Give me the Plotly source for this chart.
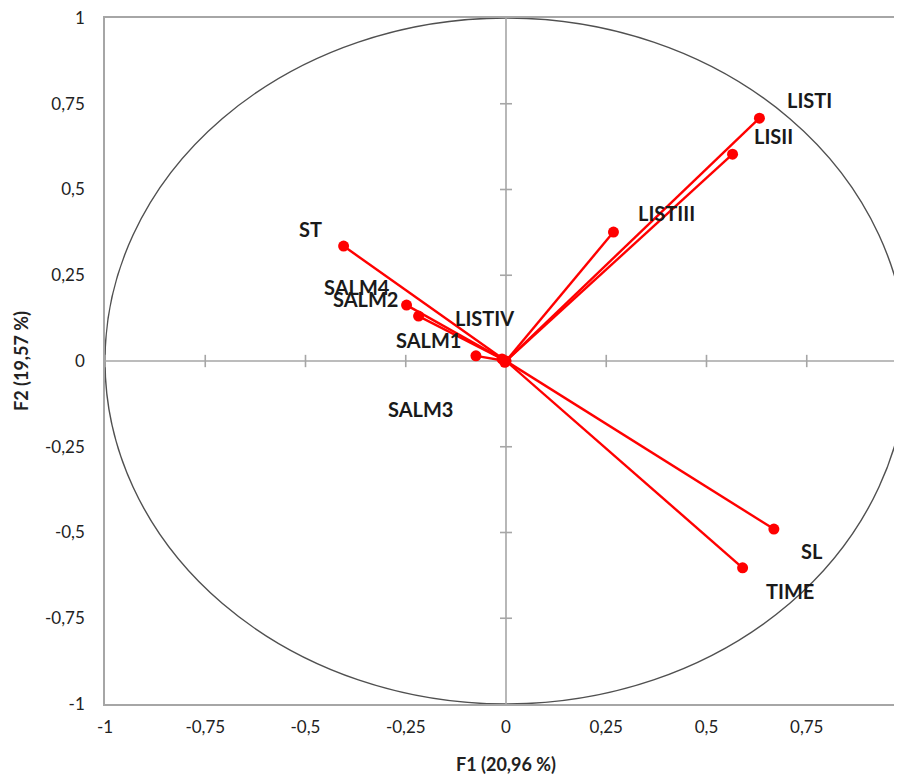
import plotly.graph_objects as go

# ---- data ----
variables = ["LISTI", "LISII", "LISTIII", "ST", "SALM4", "SALM2", "SALM1", "LISTIV", "SALM3", "SL", "TIME"]
f1_values = [0.632, 0.565, 0.268, -0.405, -0.248, -0.218, -0.075, -0.010, -0.003, 0.668, 0.590]
f2_values = [0.708, 0.603, 0.376, 0.335, 0.163, 0.131, 0.015, 0.006, -0.004, -0.490, -0.603]

tick_vals = [-1, -0.75, -0.5, -0.25, 0, 0.25, 0.5, 0.75, 1]
tick_text = ["-1", "-0,75", "-0,5", "-0,25", "0", "0,25", "0,5", "0,75", "1"]

x_title = "F1 (20,96 %)"
y_title = "F2 (19,57 %)"

# ---- label pixel offsets (style) ----
label_offsets = {
    "LISTI": (50, 18), "LISII": (41, 18), "LISTIII": (53, 19), "ST": (-33, 17),
    "SALM4": (-50, 18), "SALM2": (-53, 17), "SALM1": (-47, 16), "LISTIV": (-17, 41),
    "SALM3": (-84, -47), "SL": (38, -22), "TIME": (47, -23),
}

RED = "#ff0000"
GREY = "#a6a6a6"
FONT = "Lato"

fig = go.Figure()

# vectors from origin
for name, x, y in zip(variables, f1_values, f2_values):
    fig.add_trace(go.Scatter(x=[0, x], y=[0, y], mode="lines",
                             line=dict(color=RED, width=2.4), hoverinfo="skip", showlegend=False))
fig.add_trace(go.Scatter(x=f1_values, y=f2_values, mode="markers", text=variables,
                         marker=dict(color=RED, size=11), showlegend=False))
fig.add_trace(go.Scatter(x=[0], y=[0], mode="markers", marker=dict(color=RED, size=11),
                         hoverinfo="skip", showlegend=False))

# unit circle
fig.add_shape(type="circle", xref="x", yref="y", x0=-1, y0=-1, x1=1, y1=1,
              line=dict(color="#505050", width=1.4), layer="below")

# zero axes with tick marks
fig.add_shape(type="line", xref="x", yref="y", x0=-1, x1=1, y0=0, y1=0,
              line=dict(color=GREY, width=1.6), layer="below")
fig.add_shape(type="line", xref="x", yref="y", x0=0, x1=0, y0=-1, y1=1,
              line=dict(color=GREY, width=1.6), layer="below")
for t in tick_vals[:-1]:
    fig.add_shape(type="line", xref="x", yref="y", x0=t, x1=t, y0=-0.018, y1=0.018,
                  line=dict(color=GREY, width=1.6), layer="below")
for t in tick_vals[1:-1]:
    fig.add_shape(type="line", xref="x", yref="y", x0=-0.015, x1=0.015, y0=t, y1=t,
                  line=dict(color=GREY, width=1.6), layer="below")

# labels
for name, x, y in zip(variables, f1_values, f2_values):
    dx, dy = label_offsets[name]
    fig.add_annotation(x=x, y=y, text="<b>%s</b>" % name, showarrow=False,
                       xshift=dx, yshift=dy, font=dict(family=FONT, size=20, color="#1a1a1a"))

fig.update_layout(
    width=910, height=775,
    margin=dict(l=97, r=11, t=10, b=79),
    paper_bgcolor="white", plot_bgcolor="white",
    showlegend=False,
    font=dict(family=FONT, size=17, color="#222222"),
    xaxis=dict(range=[-1, 1], tickvals=tick_vals, ticktext=tick_text, automargin=False,
               ticklabeloverflow="allow",
               showgrid=False, zeroline=False, showline=True, linecolor=GREY, linewidth=1.6,
               mirror=True, ticks="", ticklabelstandoff=7,
               title=dict(text="<b>%s</b>" % x_title, font=dict(size=18), standoff=22)),
    yaxis=dict(range=[-1, 1], tickvals=tick_vals, ticktext=tick_text, automargin=False,
               ticklabeloverflow="allow",
               showgrid=False, zeroline=False, showline=True, linecolor=GREY, linewidth=1.6,
               mirror=False, ticks="", ticklabelstandoff=15,
               title=dict(text="<b>%s</b>" % y_title, font=dict(size=18), standoff=12)),
)

fig.write_html("out.html")
